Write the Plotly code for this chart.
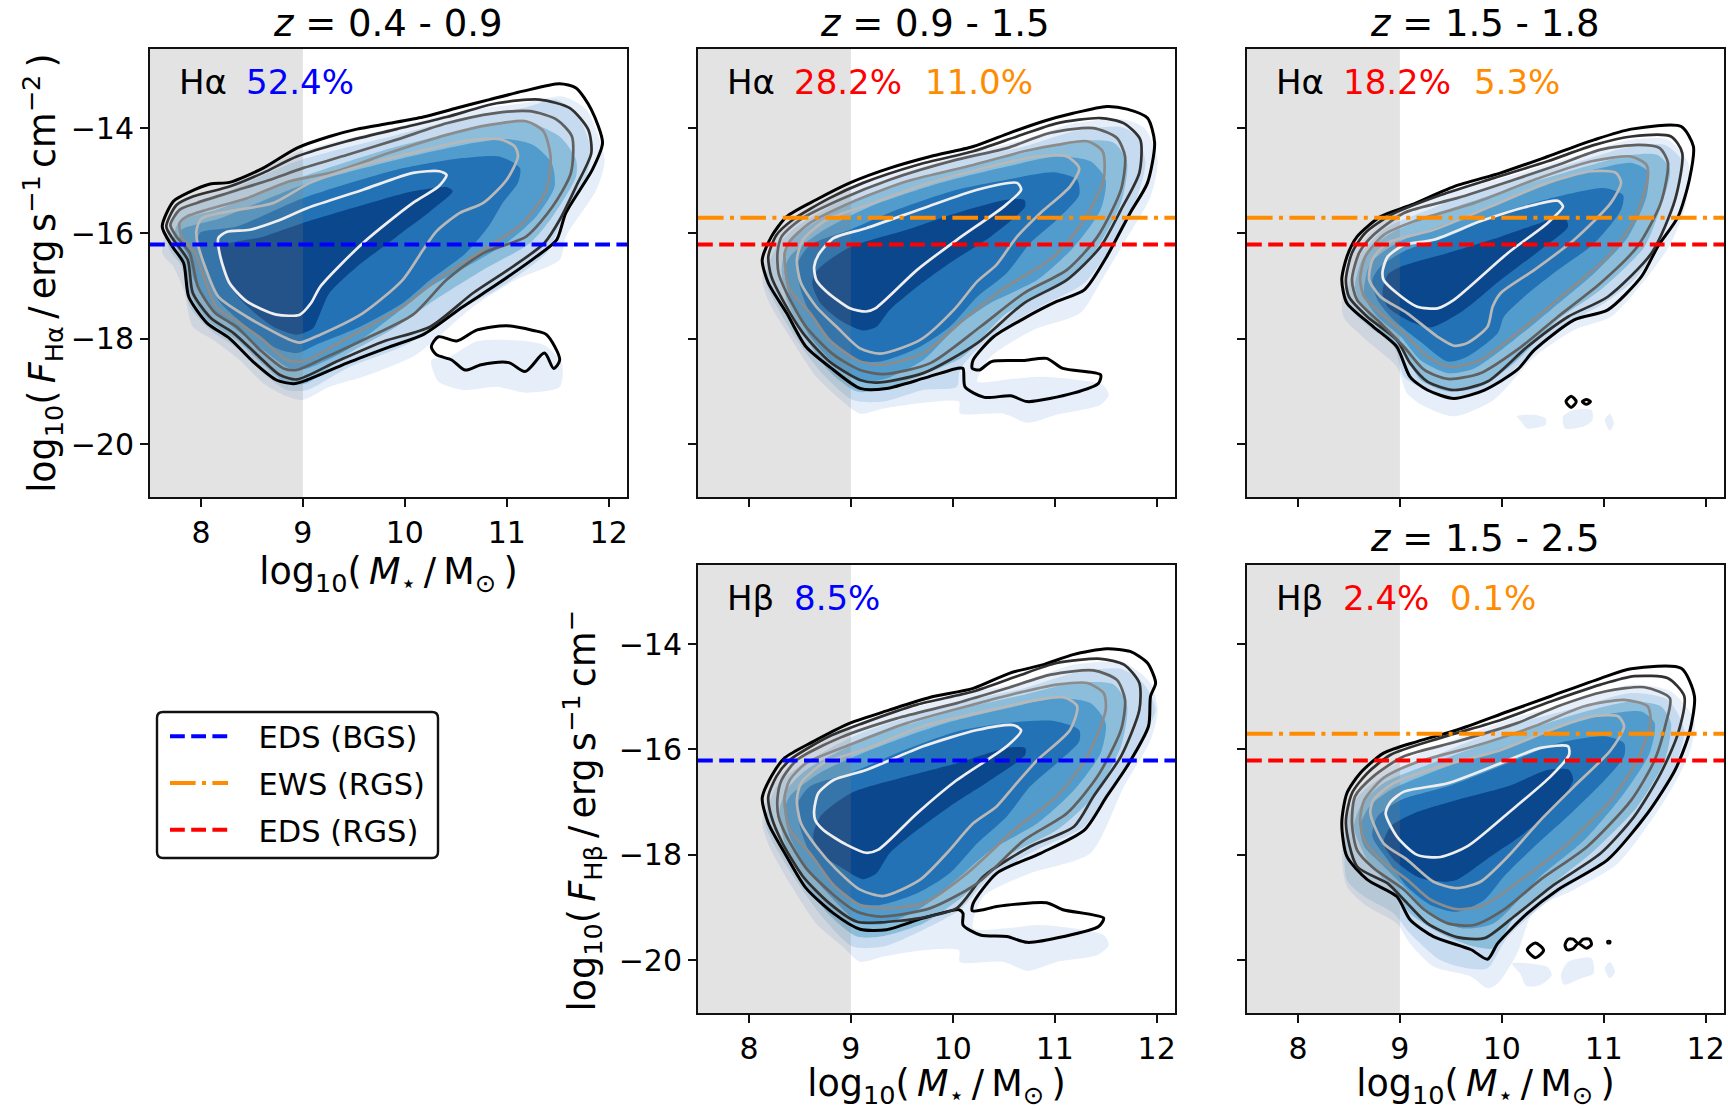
import plotly.graph_objects as go

W, H = 1728, 1110
FONT = "DejaVu Sans"

# ---------- values: (log10 M*, log10 F) ----------
P1_L1 = [(7.62,-15.87),(7.73,-15.39),(7.88,-15.22),(8.09,-15.06),(8.28,-15.03),(8.61,-14.76),(8.94,-14.38),(9.26,-14.16),(9.53,-14.02),(9.85,-13.91),(10.18,-13.79),(10.51,-13.62),(10.83,-13.46),(11.16,-13.30),(11.52,-13.16),(11.68,-13.24),(11.83,-13.65),(11.94,-14.28),(11.84,-14.79),(11.58,-15.61),(11.49,-16.12),(11.29,-16.44),(10.90,-16.97),(10.57,-17.39),(10.18,-17.92),(9.85,-18.15),(9.43,-18.46),(9.04,-18.78),(8.91,-18.85),(8.74,-18.78),(8.51,-18.43),(8.28,-17.99),(8.06,-17.70),(7.88,-17.20),(7.83,-16.56),(7.71,-16.22)]
P1_L2 = [(7.66,-15.87),(7.76,-15.46),(7.92,-15.30),(8.28,-15.11),(8.61,-14.85),(8.94,-14.54),(9.43,-14.25),(9.92,-14.02),(10.41,-13.79),(10.90,-13.53),(11.32,-13.46),(11.62,-13.62),(11.80,-14.03),(11.83,-14.47),(11.68,-15.11),(11.52,-15.74),(11.37,-16.18),(11.06,-16.63),(10.67,-17.13),(10.25,-17.77),(9.79,-18.05),(9.33,-18.43),(8.94,-18.77),(8.77,-18.68),(8.55,-18.30),(8.32,-17.89),(8.10,-17.61),(7.92,-17.13),(7.87,-16.50),(7.73,-16.12)]
P1_L3 = [(7.70,-15.84),(7.79,-15.55),(7.96,-15.42),(8.32,-15.20),(8.68,-14.98),(9.00,-14.76),(9.43,-14.51),(9.92,-14.22),(10.41,-13.91),(10.87,-13.72),(11.23,-13.68),(11.49,-13.84),(11.64,-14.16),(11.63,-14.85),(11.45,-15.49),(11.19,-16.06),(10.77,-16.37),(10.41,-16.88),(10.08,-17.54),(9.59,-18.02),(9.20,-18.37),(8.94,-18.59),(8.81,-18.56),(8.58,-18.21),(8.35,-17.77),(8.14,-17.51),(7.97,-17.01),(7.89,-16.37),(7.76,-16.06)]
P1_L4 = [(7.79,-15.80),(7.86,-15.68),(8.06,-15.55),(8.45,-15.33),(8.87,-15.01),(9.33,-14.82),(9.85,-14.47),(10.41,-14.13),(10.83,-13.94),(11.19,-13.87),(11.36,-14.06),(11.43,-14.54),(11.39,-15.17),(11.16,-15.80),(10.77,-16.31),(10.31,-16.88),(9.98,-17.39),(9.46,-17.96),(9.00,-18.43),(8.84,-18.40),(8.61,-18.02),(8.38,-17.70),(8.15,-17.39),(8.04,-16.88),(7.94,-16.37),(7.81,-16.06)]
P1_L5 = [(7.96,-15.90),(8.01,-15.71),(8.28,-15.58),(8.71,-15.42),(9.07,-15.04),(9.59,-14.70),(10.08,-14.47),(10.57,-14.25),(10.93,-14.21),(11.08,-14.35),(11.11,-14.54),(11.00,-14.98),(10.77,-15.42),(10.54,-15.61),(10.31,-15.96),(10.18,-16.31),(9.98,-16.88),(9.59,-17.51),(9.17,-17.92),(8.97,-18.07),(8.84,-17.99),(8.45,-17.58),(8.17,-17.20),(8.04,-16.63),(7.96,-16.12)]
P1_L6 = [(8.17,-16.09),(8.25,-15.97),(8.48,-15.93),(8.74,-15.77),(9.04,-15.52),(9.59,-15.17),(10.08,-14.85),(10.34,-14.82),(10.41,-14.89),(10.33,-15.11),(10.08,-15.42),(9.59,-16.18),(9.17,-17.01),(9.08,-17.32),(8.97,-17.54),(8.74,-17.54),(8.45,-17.29),(8.28,-16.94),(8.19,-16.44)]
P1_X1 = [(10.26,-18.15),(10.33,-17.96),(10.51,-18.04),(10.71,-17.83),(11.00,-17.75),(11.26,-17.84),(11.39,-17.92),(11.52,-18.40),(11.46,-18.56),(11.37,-18.27),(11.18,-18.62),(11.02,-18.45),(10.75,-18.49),(10.59,-18.59),(10.46,-18.40),(10.31,-18.30)]
P1_F1 = [(7.79,-15.42),(8.28,-15.11),(8.94,-14.47),(9.92,-13.98),(10.57,-13.68),(11.16,-13.53),(11.55,-13.40),(11.78,-13.65),(11.96,-14.60),(11.88,-15.17),(11.58,-16.06),(11.52,-16.50),(11.09,-16.88),(10.67,-17.39),(10.11,-18.30),(9.59,-18.72),(9.26,-18.91),(9.00,-19.16),(8.84,-19.09),(8.61,-18.84),(8.38,-18.40),(8.12,-18.02),(7.92,-17.77),(7.83,-17.07),(7.73,-16.63),(7.62,-16.37)]
P1_I1 = [(10.26,-18.40),(10.44,-18.34),(10.70,-18.05),(11.03,-18.02),(11.36,-18.11),(11.54,-18.46),(11.52,-18.91),(11.19,-19.02),(10.90,-18.91),(10.57,-18.97),(10.33,-18.81)]
P1_F2 = [(7.68,-16.25),(7.76,-15.61),(8.12,-15.33),(8.94,-14.63),(9.92,-14.13),(10.57,-13.81),(11.16,-13.62),(11.49,-13.46),(11.72,-13.84),(11.83,-14.47),(11.77,-14.98),(11.52,-15.87),(11.39,-16.37),(10.90,-17.07),(10.41,-17.58),(10.05,-18.08),(9.43,-18.56),(9.04,-18.97),(8.84,-18.97),(8.61,-18.65),(8.38,-18.21),(8.09,-17.83),(7.89,-17.39),(7.81,-16.63)]
P1_F3 = [(7.73,-16.12),(7.79,-15.77),(8.15,-15.55),(9.00,-14.92),(9.92,-14.35),(10.57,-14.06),(11.16,-13.87),(11.52,-14.16),(11.68,-14.60),(11.68,-14.92),(11.45,-15.68),(11.23,-16.18),(10.77,-16.69),(10.25,-17.32),(9.92,-17.77),(9.43,-18.30),(9.04,-18.84),(8.84,-18.84),(8.61,-18.49),(8.35,-18.02),(8.06,-17.64),(7.89,-17.13),(7.84,-16.56)]
P1_F4 = [(7.79,-16.12),(7.81,-15.93),(8.19,-15.71),(9.00,-15.08),(9.92,-14.60),(10.57,-14.32),(11.00,-14.21),(11.26,-14.32),(11.44,-14.66),(11.47,-15.11),(11.29,-15.68),(11.00,-16.18),(10.67,-16.56),(10.25,-17.01),(9.92,-17.51),(9.43,-18.21),(9.04,-18.56),(8.87,-18.56),(8.61,-18.21),(8.35,-17.83),(8.09,-17.39),(7.93,-16.88),(7.88,-16.44)]
P1_F5 = [(7.97,-16.18),(7.99,-15.99),(8.35,-15.87),(9.00,-15.33),(9.92,-14.79),(10.57,-14.57),(10.93,-14.54),(11.13,-14.76),(11.11,-15.04),(10.96,-15.42),(10.82,-15.87),(10.60,-16.37),(10.25,-16.88),(9.98,-17.32),(9.56,-17.77),(9.13,-18.11),(8.94,-18.27),(8.74,-18.18),(8.45,-17.77),(8.17,-17.26),(8.04,-16.63)]
P1_F6 = [(8.19,-16.25),(8.61,-16.06),(9.00,-15.80),(9.59,-15.46),(10.08,-15.20),(10.41,-15.12),(10.47,-15.20),(10.25,-15.58),(9.92,-16.06),(9.53,-16.63),(9.26,-17.13),(9.17,-17.51),(9.10,-17.80),(8.94,-17.92),(8.71,-17.77),(8.42,-17.32),(8.25,-16.88),(8.20,-16.50)]

P2_L1 = [(8.13,-16.50),(8.22,-16.06),(8.37,-15.68),(8.66,-15.36),(8.99,-15.04),(9.38,-14.76),(9.78,-14.54),(10.20,-14.35),(10.56,-14.09),(10.89,-13.87),(11.18,-13.72),(11.51,-13.59),(11.71,-13.64),(11.91,-13.81),(11.98,-14.28),(11.91,-15.04),(11.74,-15.61),(11.51,-16.44),(11.29,-17.07),(11.02,-17.29),(10.70,-17.61),(10.40,-17.96),(10.20,-18.40),(10.19,-18.56),(10.26,-18.59),(10.38,-18.43),(10.69,-18.41),(10.92,-18.37),(11.08,-18.56),(11.45,-18.68),(11.43,-18.84),(11.18,-19.03),(10.73,-19.19),(10.57,-19.08),(10.31,-19.11),(10.12,-18.91),(10.10,-18.56),(10.04,-18.56),(9.71,-18.75),(9.35,-18.94),(9.09,-18.94),(8.83,-18.59),(8.56,-18.15),(8.37,-17.51),(8.19,-16.94)]
P2_L2 = [(8.19,-16.44),(8.27,-16.03),(8.43,-15.74),(8.79,-15.33),(9.12,-15.04),(9.65,-14.70),(10.20,-14.44),(10.63,-14.16),(11.02,-13.91),(11.45,-13.81),(11.68,-13.91),(11.84,-14.22),(11.83,-14.85),(11.65,-15.55),(11.45,-16.25),(11.12,-16.88),(10.70,-17.32),(10.24,-18.08),(9.71,-18.65),(9.25,-18.83),(9.09,-18.78),(8.79,-18.43),(8.53,-17.89),(8.33,-17.26),(8.22,-16.82)]
P2_L3 = [(8.28,-16.37),(8.32,-16.06),(8.50,-15.74),(8.89,-15.36),(9.38,-14.98),(10.04,-14.60),(10.53,-14.38),(10.96,-14.09),(11.38,-14.00),(11.61,-14.19),(11.69,-14.54),(11.65,-15.17),(11.42,-16.06),(11.12,-16.69),(10.70,-17.13),(10.27,-17.77),(9.78,-18.46),(9.32,-18.67),(9.09,-18.59),(8.83,-18.30),(8.56,-17.77),(8.37,-17.13),(8.29,-16.75)]
P2_L4 = [(8.35,-16.37),(8.40,-16.15),(8.60,-15.80),(8.99,-15.42),(9.55,-15.01),(10.20,-14.70),(10.70,-14.44),(11.02,-14.32),(11.32,-14.25),(11.47,-14.44),(11.48,-14.98),(11.29,-15.74),(10.99,-16.44),(10.53,-17.01),(10.14,-17.58),(9.71,-18.27),(9.32,-18.49),(9.09,-18.43),(8.79,-18.02),(8.60,-17.51),(8.40,-17.07),(8.36,-16.69)]
P2_L5 = [(8.47,-16.50),(8.53,-16.12),(8.76,-15.74),(9.12,-15.49),(9.71,-15.08),(10.37,-14.73),(10.83,-14.54),(11.12,-14.54),(11.24,-14.76),(11.15,-15.11),(10.86,-15.61),(10.63,-16.06),(10.43,-16.59),(10.24,-16.91),(10.01,-17.45),(9.68,-18.02),(9.29,-18.28),(9.09,-18.18),(8.86,-17.77),(8.66,-17.39),(8.51,-16.94)]
P2_L6 = [(8.64,-16.63),(8.68,-16.41),(8.83,-16.09),(9.15,-15.90),(9.71,-15.52),(10.24,-15.17),(10.63,-15.04),(10.67,-15.17),(10.50,-15.49),(10.04,-16.12),(9.65,-16.69),(9.24,-17.42),(9.15,-17.48),(8.99,-17.42),(8.76,-17.10),(8.66,-16.88)]
P2_F1 = [(8.13,-16.88),(8.20,-16.25),(8.40,-15.80),(8.99,-15.14),(10.04,-14.54),(10.70,-14.22),(11.19,-13.91),(11.68,-13.84),(11.88,-14.00),(12.01,-14.60),(11.94,-15.30),(11.68,-16.18),(11.48,-16.82),(11.25,-17.51),(10.79,-17.83),(10.37,-18.34),(10.24,-18.81),(10.53,-18.77),(10.86,-18.72),(11.19,-18.77),(11.47,-18.87),(11.53,-19.06),(11.45,-19.25),(11.02,-19.44),(10.73,-19.59),(10.50,-19.42),(10.07,-19.41),(10.06,-19.19),(9.71,-19.21),(9.32,-19.32),(9.09,-19.42),(8.92,-19.19),(8.66,-18.72),(8.40,-17.96),(8.20,-17.32)]
P2_F2 = [(8.16,-16.88),(8.27,-16.25),(8.47,-15.87),(9.06,-15.23),(10.04,-14.63),(10.70,-14.35),(11.19,-14.06),(11.65,-13.98),(11.81,-14.16),(11.89,-14.66),(11.81,-15.30),(11.58,-16.18),(11.29,-16.94),(10.83,-17.42),(10.37,-17.96),(10.07,-18.59),(10.04,-18.91),(9.71,-18.97),(9.32,-19.19),(9.02,-19.16),(8.73,-18.68),(8.47,-18.02),(8.24,-17.26)]
P2_F3 = [(8.32,-16.69),(8.37,-16.25),(8.56,-15.90),(9.12,-15.30),(10.04,-14.76),(10.70,-14.47),(11.19,-14.25),(11.58,-14.28),(11.71,-14.66),(11.65,-15.42),(11.38,-16.37),(11.02,-17.01),(10.53,-17.51),(10.10,-18.34),(9.71,-18.68),(9.29,-18.97),(9.06,-19.00),(8.79,-18.62),(8.53,-17.89),(8.37,-17.26)]
P2_F4 = [(8.35,-16.69),(8.40,-16.44),(8.69,-15.99),(9.19,-15.49),(9.88,-15.04),(10.53,-14.73),(11.02,-14.54),(11.35,-14.63),(11.50,-14.98),(11.45,-15.55),(11.19,-16.25),(10.83,-16.88),(10.37,-17.32),(10.04,-17.77),(9.71,-18.40),(9.35,-18.75),(9.09,-18.81),(8.83,-18.46),(8.60,-17.96),(8.40,-17.20)]
P2_F5 = [(8.48,-16.56),(8.60,-16.22),(8.99,-15.93),(9.45,-15.55),(10.04,-15.17),(10.53,-14.98),(10.99,-14.84),(11.22,-14.98),(11.24,-15.27),(11.02,-15.74),(10.76,-16.18),(10.53,-16.75),(10.24,-17.20),(9.97,-17.77),(9.65,-18.18),(9.29,-18.43),(9.06,-18.40),(8.83,-18.08),(8.60,-17.51),(8.50,-17.01)]
P2_F6 = [(8.66,-16.72),(8.79,-16.50),(9.00,-16.25),(9.55,-15.93),(10.04,-15.61),(10.53,-15.36),(10.70,-15.36),(10.71,-15.49),(10.37,-16.06),(9.97,-16.56),(9.65,-17.01),(9.38,-17.45),(9.25,-17.77),(9.12,-17.84),(8.89,-17.64),(8.70,-17.32),(8.62,-16.94)]

P3_L1 = [(8.43,-16.88),(8.48,-16.44),(8.58,-16.06),(8.81,-15.68),(9.11,-15.46),(9.53,-15.11),(9.99,-14.85),(10.45,-14.54),(10.91,-14.22),(11.27,-14.02),(11.76,-13.97),(11.88,-14.35),(11.84,-14.98),(11.73,-15.68),(11.53,-16.25),(11.37,-16.82),(11.04,-17.45),(10.71,-17.64),(10.32,-18.21),(10.15,-18.59),(9.83,-18.97),(9.53,-19.13),(9.27,-18.97),(9.10,-18.72),(8.97,-18.15),(8.74,-17.77),(8.48,-17.32)]
P3_L2 = [(8.47,-16.88),(8.53,-16.37),(8.66,-15.99),(8.91,-15.65),(9.40,-15.27),(9.92,-14.95),(10.45,-14.63),(10.91,-14.32),(11.27,-14.16),(11.66,-14.16),(11.77,-14.47),(11.70,-15.36),(11.47,-16.37),(11.04,-17.20),(10.65,-17.58),(10.25,-18.15),(9.86,-18.81),(9.53,-18.97),(9.27,-18.81),(9.10,-18.46),(8.97,-18.02),(8.68,-17.58),(8.50,-17.20)]
P3_L3 = [(8.53,-16.88),(8.60,-16.37),(8.74,-16.03),(9.04,-15.61),(9.56,-15.33),(10.12,-14.98),(10.55,-14.70),(10.97,-14.41),(11.34,-14.32),(11.55,-14.38),(11.63,-14.66),(11.56,-15.42),(11.33,-16.25),(10.97,-16.94),(10.55,-17.58),(10.19,-18.15),(9.79,-18.65),(9.47,-18.76),(9.24,-18.59),(9.04,-18.15),(8.81,-17.70),(8.58,-17.26)]
P3_L4 = [(8.61,-16.88),(8.66,-16.44),(8.84,-16.03),(9.14,-15.77),(9.73,-15.42),(10.32,-14.98),(10.88,-14.63),(11.27,-14.54),(11.42,-14.70),(11.43,-14.98),(11.30,-15.74),(11.04,-16.44),(10.58,-17.20),(10.15,-17.89),(9.79,-18.40),(9.50,-18.53),(9.27,-18.34),(9.04,-17.89),(8.81,-17.51),(8.65,-17.20)]
P3_L5 = [(8.70,-16.88),(8.73,-16.50),(8.88,-16.18),(9.33,-15.93),(9.89,-15.49),(10.45,-15.04),(10.88,-14.82),(11.12,-14.85),(11.17,-15.04),(11.07,-15.42),(10.71,-16.12),(10.32,-16.69),(9.99,-17.13),(9.91,-17.39),(9.86,-17.77),(9.66,-18.08),(9.53,-18.13),(9.37,-17.96),(9.07,-17.51),(8.81,-17.20)]
P3_L6 = [(8.83,-16.72),(8.88,-16.44),(9.04,-16.22),(9.33,-16.12),(9.79,-15.77),(10.25,-15.49),(10.55,-15.38),(10.60,-15.49),(10.45,-15.80),(10.06,-16.37),(9.53,-17.26),(9.37,-17.42),(9.17,-17.39),(8.97,-17.13),(8.84,-16.88)]
P3_X1 = [(10.63,-19.19),(10.68,-19.09),(10.73,-19.19),(10.68,-19.30)]
P3_X2 = [(10.79,-19.19),(10.83,-19.15),(10.87,-19.19),(10.83,-19.24)]
P3_F1 = [(8.43,-17.32),(8.55,-16.37),(8.81,-15.80),(9.27,-15.36),(10.06,-14.92),(10.71,-14.54),(11.27,-14.22),(11.63,-14.22),(11.83,-14.66),(11.81,-15.42),(11.66,-16.18),(11.43,-16.82),(11.07,-17.58),(10.71,-17.83),(10.32,-18.34),(9.92,-19.16),(9.53,-19.47),(9.24,-19.28),(9.07,-19.03),(8.97,-18.53),(8.68,-18.04),(8.45,-17.60)]
P3_I1 = [(10.15,-19.47),(10.32,-19.44),(10.43,-19.51),(10.43,-19.63),(10.25,-19.70),(10.19,-19.57)]
P3_I2 = [(10.60,-19.47),(10.71,-19.35),(10.88,-19.35),(10.89,-19.54),(10.81,-19.66),(10.62,-19.70)]
P3_I3 = [(11.01,-19.54),(11.06,-19.42),(11.10,-19.60),(11.06,-19.74)]
P3_F2 = [(8.48,-17.32),(8.58,-16.50),(8.84,-15.93),(9.40,-15.46),(10.06,-15.01),(10.71,-14.66),(11.27,-14.35),(11.60,-14.32),(11.76,-14.60),(11.71,-15.36),(11.53,-16.25),(11.30,-16.88),(11.01,-17.32),(10.71,-17.64),(10.32,-18.21),(9.92,-18.91),(9.53,-19.11),(9.24,-18.96),(9.04,-18.72),(8.94,-18.15),(8.65,-17.70)]
P3_F3 = [(8.56,-17.01),(8.63,-16.50),(8.88,-16.03),(9.47,-15.55),(10.06,-15.17),(10.71,-14.79),(11.27,-14.51),(11.53,-14.51),(11.65,-14.79),(11.56,-15.49),(11.40,-16.25),(10.97,-17.07),(10.55,-17.64),(10.12,-18.46),(9.79,-18.91),(9.47,-19.00),(9.20,-18.78),(9.04,-18.27),(8.78,-17.77),(8.61,-17.32)]
P3_F4 = [(8.66,-16.88),(8.71,-16.56),(8.97,-16.18),(9.47,-15.80),(10.06,-15.36),(10.55,-14.98),(10.97,-14.76),(11.27,-14.66),(11.43,-14.82),(11.42,-15.30),(11.24,-16.06),(10.91,-16.75),(10.48,-17.45),(10.12,-18.02),(9.73,-18.56),(9.47,-18.65),(9.20,-18.40),(9.01,-17.96),(8.78,-17.58),(8.65,-17.20)]
P3_F5 = [(8.73,-16.88),(8.81,-16.63),(9.07,-16.31),(9.47,-16.06),(9.99,-15.61),(10.55,-15.30),(11.01,-15.14),(11.19,-15.27),(11.17,-15.55),(10.91,-16.18),(10.51,-16.75),(10.22,-17.20),(10.02,-17.58),(9.96,-17.89),(9.66,-18.34),(9.47,-18.43),(9.20,-18.05),(8.94,-17.64),(8.78,-17.26)]
P3_F6 = [(8.83,-17.13),(8.88,-16.78),(9.01,-16.63),(9.47,-16.37),(9.99,-16.06),(10.38,-15.80),(10.61,-15.68),(10.65,-15.87),(10.38,-16.31),(9.99,-16.88),(9.63,-17.45),(9.30,-17.78),(9.07,-17.64),(8.88,-17.39)]

P4_L1 = [(8.13,-16.92),(8.22,-16.51),(8.35,-16.16),(8.63,-15.85),(8.99,-15.50),(9.38,-15.25),(9.78,-15.01),(10.20,-14.84),(10.56,-14.55),(10.89,-14.39),(11.18,-14.20),(11.51,-14.09),(11.74,-14.14),(11.91,-14.36),(11.99,-14.74),(11.94,-14.99),(11.92,-15.56),(11.71,-16.32),(11.51,-16.89),(11.29,-17.53),(10.86,-17.97),(10.43,-18.35),(10.20,-18.92),(10.19,-19.06),(10.30,-19.04),(10.43,-18.98),(10.92,-18.91),(11.08,-19.04),(11.48,-19.20),(11.43,-19.36),(11.09,-19.55),(10.73,-19.66),(10.53,-19.55),(10.27,-19.52),(10.10,-19.33),(10.10,-19.11),(10.06,-19.04),(9.71,-19.20),(9.35,-19.42),(9.09,-19.41),(8.83,-19.11),(8.56,-18.63),(8.37,-18.03),(8.19,-17.40)]
P4_L2 = [(8.19,-16.89),(8.27,-16.51),(8.40,-16.20),(8.79,-15.75),(9.12,-15.50),(9.65,-15.15),(10.20,-14.90),(10.63,-14.61),(11.02,-14.36),(11.45,-14.28),(11.68,-14.39),(11.83,-14.74),(11.83,-15.25),(11.65,-16.13),(11.38,-16.89),(11.19,-17.46),(10.76,-17.84),(10.30,-18.41),(10.04,-19.01),(9.68,-19.20),(9.29,-19.28),(9.06,-19.27),(8.79,-18.92),(8.53,-18.41),(8.33,-17.78),(8.22,-17.27)]
P4_L3 = [(8.28,-16.92),(8.32,-16.58),(8.47,-16.20),(8.89,-15.78),(9.45,-15.41),(10.04,-15.12),(10.53,-14.84),(10.96,-14.58),(11.38,-14.50),(11.61,-14.68),(11.69,-15.06),(11.65,-15.63),(11.42,-16.51),(11.12,-17.21),(10.70,-17.72),(10.24,-18.54),(9.78,-19.01),(9.29,-19.17),(9.06,-19.08),(8.83,-18.76),(8.56,-18.25),(8.37,-17.65),(8.29,-17.27)]
P4_L4 = [(8.35,-16.89),(8.40,-16.58),(8.56,-16.26),(8.99,-15.91),(9.55,-15.50),(10.20,-15.15),(10.70,-14.90),(11.02,-14.77),(11.32,-14.74),(11.48,-14.93),(11.50,-15.25),(11.32,-16.13),(11.02,-16.89),(10.60,-17.53),(10.14,-18.35),(9.71,-18.92),(9.32,-19.01),(9.09,-18.95),(8.83,-18.57),(8.60,-17.97),(8.40,-17.53),(8.36,-17.21)]
P4_L5 = [(8.47,-16.96),(8.51,-16.64),(8.73,-16.26),(9.12,-16.01),(9.71,-15.56),(10.37,-15.25),(10.83,-15.06),(11.09,-15.01),(11.22,-15.18),(11.15,-15.63),(10.83,-16.20),(10.60,-16.70),(10.43,-17.08),(10.20,-17.40),(9.94,-17.97),(9.68,-18.47),(9.32,-18.78),(9.09,-18.66),(8.86,-18.28),(8.66,-17.84),(8.51,-17.40)]
P4_L6 = [(8.64,-17.15),(8.68,-16.83),(8.83,-16.58),(9.15,-16.39),(9.71,-15.94),(10.24,-15.63),(10.60,-15.54),(10.67,-15.64),(10.53,-15.94),(10.04,-16.58),(9.65,-17.21),(9.27,-17.90),(9.15,-17.96),(8.96,-17.81),(8.73,-17.53),(8.65,-17.34)]
P4_F1 = [(8.13,-17.40),(8.20,-16.77),(8.40,-16.29),(8.99,-15.59),(10.04,-14.99),(10.70,-14.71),(11.19,-14.39),(11.68,-14.36),(11.94,-14.74),(12.01,-15.25),(11.94,-15.82),(11.68,-16.70),(11.35,-17.97),(10.76,-18.35),(10.30,-18.79),(10.20,-19.39),(10.53,-19.39),(10.86,-19.33),(11.48,-19.52),(11.53,-19.71),(11.42,-19.90),(11.02,-20.03),(10.73,-20.20),(10.50,-20.03),(10.07,-20.03),(10.06,-19.81),(9.71,-19.81),(9.32,-19.93),(9.09,-20.03),(8.92,-19.74),(8.66,-19.30),(8.40,-18.54),(8.20,-17.84)]
P4_F2 = [(8.16,-17.40),(8.27,-16.70),(8.47,-16.35),(9.06,-15.72),(10.04,-15.12),(10.70,-14.84),(11.19,-14.55),(11.65,-14.47),(11.88,-14.77),(11.99,-15.25),(11.81,-15.94),(11.58,-16.70),(11.29,-17.46),(10.83,-17.90),(10.37,-18.41),(10.07,-19.04),(9.71,-19.42),(9.32,-19.74),(9.02,-19.74),(8.73,-19.20),(8.47,-18.51),(8.24,-17.78)]
P4_F3 = [(8.30,-17.15),(8.37,-16.77),(8.56,-16.39),(9.12,-15.82),(10.04,-15.25),(10.70,-14.96),(11.19,-14.74),(11.58,-14.77),(11.71,-15.18),(11.65,-15.94),(11.38,-16.89),(11.02,-17.53),(10.53,-18.03),(10.10,-18.79),(9.71,-19.30),(9.29,-19.55),(9.06,-19.55),(8.79,-19.14),(8.53,-18.47),(8.35,-17.78)]
P4_F4 = [(8.35,-17.15),(8.40,-16.89),(8.69,-16.45),(9.19,-16.01),(9.88,-15.53),(10.53,-15.22),(11.02,-15.03),(11.35,-15.12),(11.50,-15.50),(11.45,-16.07),(11.19,-16.77),(10.83,-17.40),(10.37,-17.91),(10.07,-18.41),(9.71,-18.98),(9.35,-19.30),(9.09,-19.30),(8.83,-18.85),(8.60,-18.35),(8.40,-17.65)]
P4_F5 = [(8.48,-17.02),(8.60,-16.70),(8.99,-16.45),(9.45,-16.07),(10.04,-15.66),(10.53,-15.50),(10.99,-15.46),(11.24,-15.63),(11.24,-15.85),(11.02,-16.26),(10.76,-16.70),(10.53,-17.27),(10.24,-17.78),(9.97,-18.35),(9.65,-18.73),(9.29,-18.95),(9.06,-18.92),(8.83,-18.57),(8.60,-17.97),(8.50,-17.46)]
P4_F6 = [(8.63,-17.65),(8.70,-17.27),(9.00,-16.83),(9.55,-16.51),(10.04,-16.26),(10.53,-15.97),(10.71,-15.97),(10.71,-16.10),(10.37,-16.58),(9.97,-17.08),(9.65,-17.53),(9.38,-17.97),(9.25,-18.35),(9.12,-18.46),(8.89,-18.22),(8.70,-17.97)]

P5_L1 = [(8.43,-17.40),(8.48,-16.83),(8.61,-16.45),(8.84,-16.07),(9.17,-15.85),(9.56,-15.63),(10.06,-15.28),(10.48,-14.99),(10.97,-14.65),(11.27,-14.47),(11.76,-14.46),(11.89,-14.99),(11.84,-15.69),(11.70,-16.39),(11.43,-17.21),(11.04,-18.09),(10.55,-18.66),(10.25,-19.11),(9.96,-19.68),(9.86,-19.98),(9.70,-19.80),(9.33,-19.55),(9.10,-19.23),(8.97,-18.79),(8.68,-18.47),(8.48,-18.03)]
P5_L2 = [(8.47,-17.40),(8.53,-16.83),(8.68,-16.45),(8.91,-16.10),(9.40,-15.78),(9.99,-15.44),(10.48,-15.09),(10.97,-14.77),(11.30,-14.61),(11.63,-14.65),(11.79,-14.99),(11.73,-15.69),(11.56,-16.45),(11.30,-17.27),(10.97,-17.97),(10.51,-18.57),(10.12,-19.17),(9.83,-19.58),(9.56,-19.56),(9.27,-19.30),(9.04,-18.85),(8.88,-18.54),(8.58,-18.22)]
P5_L3 = [(8.53,-17.40),(8.56,-16.89),(8.74,-16.51),(9.04,-16.13),(9.56,-15.85),(10.15,-15.50),(10.55,-15.18),(11.01,-14.90),(11.40,-14.82),(11.65,-15.03),(11.61,-15.50),(11.50,-16.20),(11.27,-16.96),(10.84,-17.84),(10.38,-18.47),(10.02,-19.04),(9.73,-19.33),(9.47,-19.30),(9.24,-19.04),(9.04,-18.66),(8.74,-18.25),(8.58,-17.91)]
P5_L4 = [(8.61,-17.34),(8.65,-16.96),(8.84,-16.54),(9.14,-16.26),(9.73,-15.94),(10.32,-15.56),(10.81,-15.18),(11.20,-15.06),(11.43,-15.18),(11.46,-15.50),(11.33,-16.20),(11.07,-16.96),(10.65,-17.78),(10.19,-18.47),(9.83,-18.95),(9.56,-19.03),(9.30,-18.85),(9.07,-18.47),(8.81,-18.09),(8.65,-17.72)]
P5_L5 = [(8.71,-17.21),(8.74,-16.96),(8.94,-16.64),(9.40,-16.32),(9.99,-16.01),(10.48,-15.63),(10.88,-15.37),(11.14,-15.37),(11.20,-15.56),(11.07,-16.01),(10.71,-16.70),(10.38,-17.34),(10.06,-18.03),(9.79,-18.51),(9.56,-18.63),(9.33,-18.51),(9.07,-18.09),(8.84,-17.78)]
P5_L6 = [(8.86,-17.21),(8.91,-16.99),(9.04,-16.80),(9.47,-16.64),(9.99,-16.26),(10.38,-15.97),(10.65,-15.94),(10.66,-16.10),(10.48,-16.51),(10.06,-17.21),(9.66,-17.84),(9.40,-18.04),(9.17,-18.00),(8.97,-17.65)]
P5_X1 = [(10.25,-19.80),(10.33,-19.67),(10.41,-19.81),(10.33,-19.95)]
P5_X2 = [(10.62,-19.71),(10.65,-19.60),(10.70,-19.60),(10.75,-19.68),(10.80,-19.60),(10.86,-19.60),(10.88,-19.70),(10.83,-19.77),(10.75,-19.68),(10.70,-19.78),(10.64,-19.80)]
P5_X3 = [(11.04,-19.64),(11.06,-19.64),(11.06,-19.67),(11.04,-19.67)]
P5_F1 = [(8.43,-17.97),(8.53,-16.96),(8.74,-16.51),(9.27,-16.01),(10.06,-15.44),(10.71,-15.09),(11.27,-14.77),(11.66,-14.90),(11.89,-15.44),(11.84,-16.07),(11.60,-16.96),(11.14,-18.16),(10.71,-18.66),(10.32,-19.04),(10.15,-19.87),(9.96,-20.44),(9.86,-20.53),(9.70,-20.31),(9.33,-20.12),(9.10,-19.68),(8.97,-19.30),(8.68,-18.98),(8.48,-18.60)]
P5_I1 = [(10.10,-20.06),(10.45,-20.13),(10.49,-20.28),(10.38,-20.47),(10.24,-20.49),(10.18,-20.25)]
P5_I2 = [(10.58,-20.28),(10.65,-20.03),(10.88,-19.96),(10.90,-20.25),(10.78,-20.34),(10.61,-20.46)]
P5_I3 = [(11.01,-20.15),(11.06,-20.03),(11.11,-20.22),(11.06,-20.34)]
P5_F2 = [(8.47,-17.46),(8.56,-16.96),(8.78,-16.58),(9.33,-16.13),(10.06,-15.56),(10.71,-15.22),(11.27,-14.93),(11.63,-15.06),(11.79,-15.63),(11.70,-16.32),(11.43,-17.15),(11.04,-18.09),(10.55,-18.73),(10.06,-19.55),(9.86,-20.15),(9.66,-20.15),(9.40,-20.00),(9.10,-19.49),(8.94,-19.11),(8.65,-18.79),(8.48,-18.47)]
P5_F3 = [(8.55,-17.46),(8.63,-17.02),(8.84,-16.64),(9.40,-16.20),(10.06,-15.75),(10.71,-15.34),(11.27,-15.09),(11.56,-15.18),(11.66,-15.50),(11.60,-16.20),(11.33,-17.08),(10.91,-17.91),(10.55,-18.47),(10.15,-19.11),(9.92,-19.77),(9.73,-19.74),(9.40,-19.49),(9.10,-19.11),(8.91,-18.63),(8.68,-18.09)]
P5_F4 = [(8.61,-17.46),(8.70,-17.08),(8.91,-16.77),(9.47,-16.32),(10.06,-15.94),(10.71,-15.50),(11.10,-15.31),(11.37,-15.28),(11.50,-15.50),(11.45,-16.07),(11.20,-16.83),(10.81,-17.72),(10.38,-18.41),(9.92,-19.30),(9.60,-19.39),(9.30,-19.11),(9.04,-18.60),(8.81,-18.16),(8.65,-17.84)]
P5_F5 = [(8.73,-17.65),(8.78,-17.27),(9.01,-16.96),(9.47,-16.70),(10.06,-16.26),(10.55,-15.88),(11.01,-15.75),(11.20,-15.88),(11.20,-16.13),(11.01,-16.58),(10.68,-17.21),(10.32,-17.84),(10.02,-18.41),(9.83,-18.85),(9.56,-19.08),(9.30,-18.95),(9.07,-18.60),(8.88,-18.09)]
P5_F6 = [(8.84,-17.78),(8.91,-17.46),(9.14,-17.21),(9.56,-16.96),(10.06,-16.70),(10.45,-16.39),(10.66,-16.39),(10.70,-16.58),(10.58,-16.96),(10.22,-17.59),(9.89,-18.03),(9.56,-18.47),(9.43,-18.51),(9.20,-18.44),(8.94,-18.09)]

EDS_BGS_LIMIT = -16.21
EDS_RGS_LIMIT = -16.21
EWS_RGS_LIMIT = -15.70
MASS_LIMIT = 9.0
X_RANGE = [7.5, 12.18]
Y_RANGE = [-21.0, -12.5]
X_TICKS = [8, 9, 10, 11, 12]
Y_TICKS = [-14, -16, -18, -20]

FILL_COLORS = ["#e6eef9", "#c6dbef", "#8cbedc", "#519ccc", "#2272b5", "#0a478c"]
LINE_COLORS = ["#000000", "#303030", "#606060", "#8c8c8c", "#b8b8b8", "#eeeeee"]

BLUE, ORANGE, RED = "#0000ff", "#ff8c00", "#ff0000"
DASH = "14.8px,6.4px"
DASHDOT = "25.6px,6.4px,4px,6.4px"

PANELS = [
    dict(ax="", box=(150, 627, 49, 497), line="H\u03b1", title="<i>z</i> = 0.4 - 0.9",
         fills=[P1_F1, P1_F2, P1_F3, P1_F4, P1_F5, P1_F6], islands=[P1_I1],
         lines=[P1_L1, P1_L2, P1_L3, P1_L4, P1_L5, P1_L6], extra=[P1_X1],
         pcts=[("52.4%", BLUE, 8.42)], xlab=True, xticks=True, yticks=True, limits="bgs"),
    dict(ax="2", box=(698, 1175, 49, 497), line="H\u03b1", title="<i>z</i> = 0.9 - 1.5",
         fills=[P2_F1, P2_F2, P2_F3, P2_F4, P2_F5, P2_F6], islands=[],
         lines=[P2_L1, P2_L2, P2_L3, P2_L4, P2_L5, P2_L6], extra=[],
         pcts=[("28.2%", RED, 8.42), ("11.0%", ORANGE, 9.71)], xlab=False, xticks=False, yticks=False, limits="rgs"),
    dict(ax="3", box=(1247, 1724, 49, 497), line="H\u03b1", title="<i>z</i> = 1.5 - 1.8",
         fills=[P3_F1, P3_F2, P3_F3, P3_F4, P3_F5, P3_F6], islands=[P3_I1, P3_I2, P3_I3],
         lines=[P3_L1, P3_L2, P3_L3, P3_L4, P3_L5, P3_L6], extra=[P3_X1, P3_X2],
         pcts=[("18.2%", RED, 8.42), ("5.3%", ORANGE, 9.71)], xlab=False, xticks=False, yticks=False, limits="rgs"),
    dict(ax="4", box=(698, 1175, 565, 1013), line="H\u03b2", title=None,
         fills=[P4_F1, P4_F2, P4_F3, P4_F4, P4_F5, P4_F6], islands=[],
         lines=[P4_L1, P4_L2, P4_L3, P4_L4, P4_L5, P4_L6], extra=[],
         pcts=[("8.5%", BLUE, 8.42)], xlab=True, xticks=True, yticks=True, limits="bgs"),
    dict(ax="5", box=(1247, 1724, 565, 1013), line="H\u03b2", title="<i>z</i> = 1.5 - 2.5",
         fills=[P5_F1, P5_F2, P5_F3, P5_F4, P5_F5, P5_F6], islands=[P5_I1, P5_I2, P5_I3],
         lines=[P5_L1, P5_L2, P5_L3, P5_L4, P5_L5, P5_L6], extra=[P5_X1, P5_X2, P5_X3],
         pcts=[("2.4%", RED, 8.42), ("0.1%", ORANGE, 9.47)], xlab=True, xticks=True, yticks=False, limits="rgs"),
]

TS = "\u2009"
XLABEL = f"log<sub>10</sub>({TS}<i>M</i><sub>\u22c6</sub>{TS}/{TS}M<sub>\u2299</sub>{TS})"
YLABEL_A = f"log<sub>10</sub>({TS}<i>F</i><sub>H\u03b1</sub>{TS}/{TS}erg{TS}s<sup>\u22121</sup>{TS}cm<sup>\u22122</sup>{TS})"
YLABEL_B = f"log<sub>10</sub>({TS}<i>F</i><sub>H\u03b2</sub>{TS}/{TS}erg{TS}s<sup>\u22121</sup>{TS}cm<sup>\u2212</sup>"

SIZE_TICK, SIZE_LABEL, SIZE_TITLE, SIZE_TAG, SIZE_LEG = 30, 36.5, 37, 34, 30.5
PAD = "\u00a0\u00a0\u2009"

fig = go.Figure()


def closed(pts):
    pts = list(pts) + [pts[0]]
    return [p[0] for p in pts], [p[1] for p in pts]


legend_done = set()
annotations = []
layout_axes = {}

for p in PANELS:
    xa, ya = "x" + p["ax"], "y" + p["ax"]
    kw = dict(xaxis=xa, yaxis=ya, hoverinfo="skip", showlegend=False)
    for idx, level in enumerate(p["fills"]):
        x, y = closed(level)
        fig.add_trace(go.Scatter(x=x, y=y, mode="lines", fill="toself", fillcolor=FILL_COLORS[idx],
                                 line=dict(width=0, shape="spline", smoothing=0.7), **kw))
        if idx == 0:
            for isl in p["islands"]:
                x, y = closed(isl)
                fig.add_trace(go.Scatter(x=x, y=y, mode="lines", fill="toself", fillcolor=FILL_COLORS[0],
                                         line=dict(width=0, shape="spline", smoothing=0.7), **kw))
    fig.add_trace(go.Scatter(x=[X_RANGE[0], MASS_LIMIT, MASS_LIMIT, X_RANGE[0], X_RANGE[0]],
                             y=[Y_RANGE[0], Y_RANGE[0], Y_RANGE[1], Y_RANGE[1], Y_RANGE[0]],
                             mode="lines", fill="toself", fillcolor="rgba(128,128,128,0.22)",
                             line=dict(width=0), **kw))
    for idx, level in enumerate(p["lines"]):
        x, y = closed(level)
        fig.add_trace(go.Scatter(x=x, y=y, mode="lines",
                                 line=dict(color=LINE_COLORS[idx], width=3.0 if idx == 0 else 2.7,
                                           shape="spline", smoothing=0.7), **kw))
    for level in p["extra"]:
        x, y = closed(level)
        fig.add_trace(go.Scatter(x=x, y=y, mode="lines",
                                 line=dict(color="#000000", width=3.0, shape="spline", smoothing=0.8), **kw))
    if p["limits"] == "bgs":
        fig.add_trace(go.Scatter(x=X_RANGE, y=[EDS_BGS_LIMIT] * 2, mode="lines", name=PAD + "EDS (BGS)",
                                 legendgroup="a", line=dict(color=BLUE, width=4, dash=DASH), xaxis=xa, yaxis=ya,
                                 hoverinfo="skip", showlegend="bgs" not in legend_done))
        legend_done.add("bgs")
    else:
        fig.add_trace(go.Scatter(x=X_RANGE, y=[EWS_RGS_LIMIT] * 2, mode="lines", name=PAD + "EWS (RGS)",
                                 legendgroup="b", line=dict(color=ORANGE, width=4, dash=DASHDOT), xaxis=xa, yaxis=ya,
                                 hoverinfo="skip", showlegend="rgs" not in legend_done))
        fig.add_trace(go.Scatter(x=X_RANGE, y=[EDS_RGS_LIMIT] * 2, mode="lines", name=PAD + "EDS (RGS)",
                                 legendgroup="c", line=dict(color=RED, width=4, dash=DASH), xaxis=xa, yaxis=ya,
                                 hoverinfo="skip", showlegend="rgs" not in legend_done))
        legend_done.add("rgs")

    l, r, t, b = p["box"]
    common = dict(showgrid=False, zeroline=False, showline=True, mirror=True, linecolor="#111111", linewidth=2,
                  ticks="outside", ticklen=8, tickwidth=2, tickcolor="#111111",
                  tickfont=dict(family=FONT, size=SIZE_TICK, color="#000000"))
    xname = "xaxis" + p["ax"]
    yname = "yaxis" + p["ax"]
    layout_axes[xname] = dict(common, domain=[l / W, r / W], range=X_RANGE, tickvals=X_TICKS,
                              showticklabels=p["xticks"], anchor=ya.replace("axis", ""))
    layout_axes[yname] = dict(common, domain=[1 - b / H, 1 - t / H], range=Y_RANGE, tickvals=Y_TICKS,
                              showticklabels=p["yticks"], anchor=xa.replace("axis", ""))
    if p["xlab"]:
        layout_axes[xname]["title"] = dict(text=XLABEL, font=dict(family=FONT, size=SIZE_LABEL, color="#000000"), standoff=6)

    ylab = Y_RANGE[1] - 0.62
    annotations.append(dict(text=p["line"], x=7.76, y=ylab, xref=xa, yref=ya, xanchor="left", yanchor="middle",
                            showarrow=False, font=dict(family=FONT, size=SIZE_TAG, color="#000000")))
    for txt, col, xpos in p["pcts"]:
        annotations.append(dict(text=txt, x=xpos, y=ylab, xref=xa, yref=ya, xanchor="left", yanchor="middle",
                                showarrow=False, font=dict(family=FONT, size=SIZE_TAG, color=col)))
    if p["title"]:
        annotations.append(dict(text=p["title"], x=(l + r - 2) / 2 / W, y=1 - (t - 26) / H, xref="paper", yref="paper",
                                xanchor="center", yanchor="middle", showarrow=False,
                                font=dict(family=FONT, size=SIZE_TITLE, color="#000000")))

layout_axes["yaxis"]["title"] = dict(text=YLABEL_A, font=dict(family=FONT, size=SIZE_LABEL, color="#000000"), standoff=4)

annotations.append(dict(text=YLABEL_B, x=582 / W, y=1 - 1014 / H, xref="paper", yref="paper", textangle=-90,
                        xanchor="center", yanchor="bottom", showarrow=False,
                        font=dict(family=FONT, size=SIZE_LABEL, color="#000000")))

bx0, bx1, by0, by1, rad = 157 / W, 438 / W, 1 - 712 / H, 1 - 858 / H, 6
rx, ry = rad / W, rad / H
frame = (f"M {bx0 + rx} {by0} L {bx1 - rx} {by0} Q {bx1} {by0} {bx1} {by0 - ry} "
         f"L {bx1} {by1 + ry} Q {bx1} {by1} {bx1 - rx} {by1} "
         f"L {bx0 + rx} {by1} Q {bx0} {by1} {bx0} {by1 + ry} "
         f"L {bx0} {by0 - ry} Q {bx0} {by0} {bx0 + rx} {by0} Z")

fig.update_layout(
    width=W, height=H, autosize=False, margin=dict(l=0, r=0, t=0, b=0),
    paper_bgcolor="#ffffff", plot_bgcolor="#ffffff",
    font=dict(family=FONT, color="#000000"),
    annotations=annotations,
    shapes=[dict(type="path", path=frame, xref="paper", yref="paper",
                 line=dict(color="#111111", width=2.4), fillcolor="#ffffff", layer="below")],
    legend=dict(x=165 / W, y=1 - 710 / H, xanchor="left", yanchor="top", bgcolor="rgba(0,0,0,0)",
                borderwidth=0, font=dict(family=FONT, size=SIZE_LEG, color="#000000"), itemwidth=58,
                tracegroupgap=4),
    **layout_axes,
)

fig.write_html("out.html", post_script="document.body.style.margin='0';", config=dict(displayModeBar=False))
